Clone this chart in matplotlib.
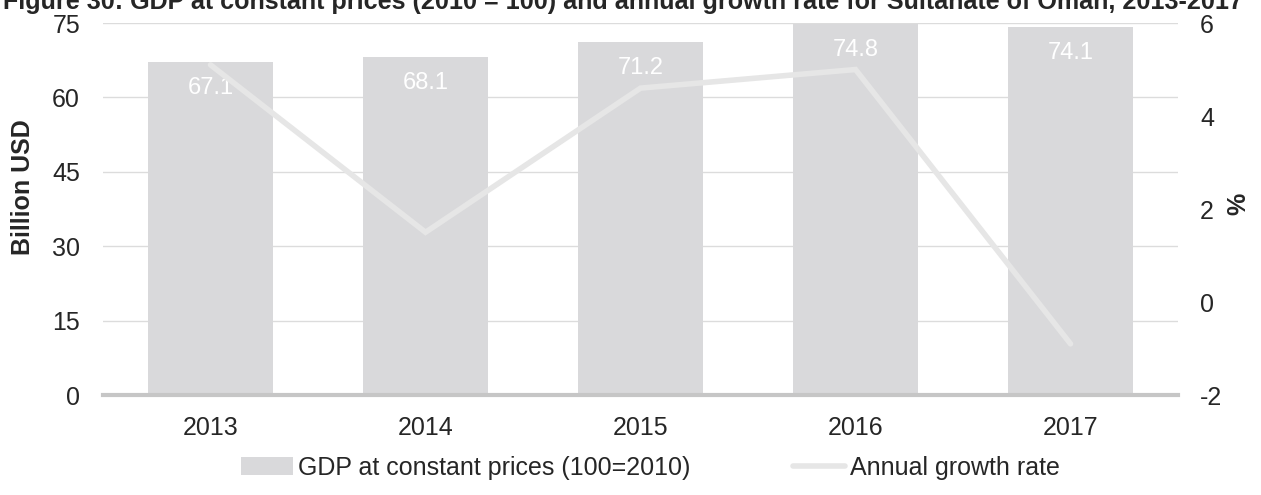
import matplotlib.pyplot as plt
import numpy as np

plt.rcParams['font.family'] = ['Liberation Sans', 'DejaVu Sans']
plt.rcParams['axes.unicode_minus'] = False

# ---------------------------------------------------------
# DATA
# ---------------------------------------------------------
years = ["2013", "2014", "2015", "2016", "2017"]
gdp = [67.1, 68.1, 71.2, 74.8, 74.1]          # billion USD
growth = [5.1, 1.5, 4.6, 5.0, -0.9]            # %

bar_color = "#d9d9db"
line_color = "#e6e6e6"
text_color = "#262626"
fs = 18

# ---------------------------------------------------------
# PLOT
# ---------------------------------------------------------
fig = plt.figure(figsize=(12.61, 4.95), dpi=100)
ax = fig.add_axes([0.0817, 0.202, 0.8525, 0.7515])
ax2 = ax.twinx()

x = np.arange(len(years))
ax.bar(x, gdp, width=0.58, color=bar_color, zorder=2,
       label="GDP at constant prices (100=2010)")

for xi, v in zip(x, gdp):
    ax.annotate(f"{v:.1f}", (xi, v), xytext=(0, -18.7), textcoords="offset points",
                ha="center", va="center", color="white", fontsize=17, zorder=5)

ax2.plot(x, growth, color=line_color, linewidth=4, solid_capstyle="round",
         solid_joinstyle="miter", zorder=3, label="Annual growth rate")

ax.set_xlim(-0.5, len(years) - 0.5)
ax.set_ylim(0, 75)
ax.set_yticks([0, 15, 30, 45, 60, 75])
ax2.set_ylim(-2, 6)
ax2.set_yticks([-2, 0, 2, 4, 6])

ax.yaxis.grid(True, color="#dcdcdc", linewidth=1, zorder=0)
ax.set_axisbelow(True)
ax.set_xticks(x)
ax.set_xticklabels(years)

for a in (ax, ax2):
    for side in ("top", "left", "right", "bottom"):
        a.spines[side].set_visible(False)
    a.tick_params(length=0, labelsize=fs, colors=text_color)
ax.axhline(0, color="#c6c6c6", linewidth=3, zorder=4, clip_on=False)
ax.tick_params(axis="x", pad=15)
ax.tick_params(axis="y", pad=16.5)
ax2.tick_params(axis="y", pad=16)

# growth line drawn over the bars
ax.set_zorder(1)
ax2.set_zorder(2)
ax2.patch.set_visible(False)

# axis titles
fig.text(23 / 1261, 1 - 187 / 495, "Billion USD", rotation=90, fontsize=fs,
         fontweight="bold", color=text_color, ha="center", va="center")
fig.text(1238 / 1261, 1 - 204 / 495, "%", rotation=90, fontsize=fs,
         fontweight="bold", color=text_color, ha="center", va="center")

fig.text(0.002, 0.982,
         "Figure 30: GDP at constant prices (2010 = 100) and annual growth rate for Sultanate of Oman, 2013-2017",
         fontsize=18.1, fontweight="bold", color=text_color, ha="left", va="baseline")

h1, l1 = ax.get_legend_handles_labels()
h2, l2 = ax2.get_legend_handles_labels()
fig.legend(h1 + h2, l1 + l2, loc="center left", bbox_to_anchor=(0.173, 0.055), ncol=2,
           frameon=False, fontsize=fs, handlelength=2.08, handletextpad=0.2,
           columnspacing=4.1, labelcolor=text_color)

plt.savefig("out.png", dpi=100)
plt.close()
